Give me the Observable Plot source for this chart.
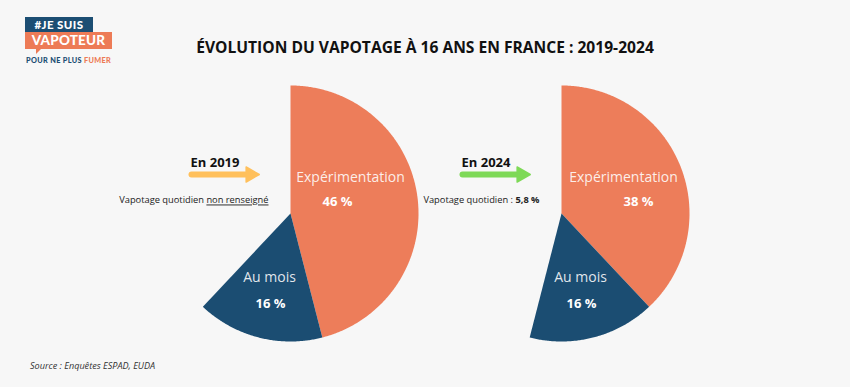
<!DOCTYPE html>
<html lang="fr">
<head>
<meta charset="utf-8">
<script src="https://cdn.jsdelivr.net/npm/d3@7"></script>
<script src="https://cdn.jsdelivr.net/npm/@observablehq/plot@0.6"></script>
<style>
  html, body { margin: 0; padding: 0; background: #f7f7f7; }
  #wrap { position: relative; width: 850px; height: 387px; background: #f7f7f7; overflow: hidden; font-family: "Open Sans", sans-serif; }
  #chart { position: absolute; left: 0; top: 0; }
  .abs { position: absolute; white-space: nowrap; }
  #title { left: 0; width: 850px; top: 37px; text-align: center; font-weight: 700; font-size: 15.6px; color: #111; line-height: 20px; }
  #source { left: 30px; top: 359px; font-size: 9.1px; font-style: italic; color: #333; }
  .logo-box { position: absolute; color: #fff; font-family: Lato, "Open Sans", sans-serif; font-weight: 900; text-align: center; }
  #l1 { left: 25px; top: 17px; width: 68px; height: 16px; background: #1c4e73; font-size: 11.5px; line-height: 16px; letter-spacing: 0.4px; }
  #l2 { left: 25px; top: 32px; width: 87px; height: 17px; background: #ed7b56; font-size: 13.5px; line-height: 17px; letter-spacing: 0.2px; }
  #l2tail { left: 36px; top: 48px; width: 0; height: 0; border-left: 6px solid #ed7b56; border-right: 1px solid transparent; border-bottom: 6px solid transparent; }
  #l3 { left: 26px; top: 56px; font-family: Lato, "Open Sans", sans-serif; font-weight: 900; font-size: 7.3px; color: #1c4e73; letter-spacing: 0.35px; }
  #l3 span { color: #ed7b56; }
</style>
</head>
<body>
<div id="wrap">
  <div class="logo-box" id="l1">#JE SUIS</div>
  <div class="logo-box" id="l2">VAPOTEUR</div>
  <div class="abs" id="l2tail"></div>
  <div class="abs" id="l3">POUR NE PLUS <span>FUMER</span></div>
  <div class="abs" id="title">ÉVOLUTION DU VAPOTAGE À 16 ANS EN FRANCE : 2019-2024</div>
  <div id="chart"></div>
  <div class="abs" id="source">Source : Enquêtes ESPAD, EUDA</div>
</div>
<script>
// ---- data ----
const years = ["2019", "2024"];
const categories = ["Expérimentation", "Au mois"];
const experimentation = [46, 38];   // %
const auMois = [16, 16];            // %
const quotidienText = ["non renseigné", "5,8 %"];
const arrowColors = ["#ffc05c", "#7ed957"];
const sliceColors = {"Expérimentation": "#ed7d5a", "Au mois": "#1b4d72"};

// ---- layout (pixel space) ----
const W = 850, H = 387;
const layout = {
  cx: [290, 561], cy: 213, r: 128,
  labelOffset: {
    "Expérimentation": [[60, 47], [62, 77]],
    "Au mois": [[-21, -20], [19, 20]]
  },
  labelY: {"Expérimentation": [177, 201], "Au mois": [277, 303]}
};

// ---- build slices from values ----
const seriesByCat = {"Expérimentation": experimentation, "Au mois": auMois};
const slicePts = [];
const labels = [];
years.forEach((year, i) => {
  const cx = layout.cx[i], cy = layout.cy, r = layout.r;
  let acc = 0;
  categories.forEach(cat => {
    const v = seriesByCat[cat][i];
    const a0 = acc / 100 * 360, a1 = (acc + v) / 100 * 360;
    acc += v;
    const key = year + "-" + cat;
    const pt = a => ({key, cat, x: cx + r * Math.sin(a * Math.PI / 180), y: cy - r * Math.cos(a * Math.PI / 180)});
    slicePts.push({key, cat, x: cx, y: cy});
    for (let a = a0; a < a1; a += 0.5) slicePts.push(pt(a));
    slicePts.push(pt(a1));
    slicePts.push({key, cat, x: cx, y: cy});
    const off = layout.labelOffset[cat][i];
    labels.push({x: cx + off[0], y: layout.labelY[cat][0], text: cat, kind: "name"});
    labels.push({x: cx + off[1], y: layout.labelY[cat][1], text: v + " %", kind: "value"});
  });
});

const ann = years.map((year, i) => ({
  year, color: arrowColors[i],
  x0: layout.cx[i] - 99, x1: layout.cx[i] - 45, xh: layout.cx[i] - 40,
  tx: layout.cx[i] - 22, q: quotidienText[i]
}));
const arrowPts = ann.flatMap(a => [{year: a.year, color: a.color, x: a.x0, y: 174}, {year: a.year, color: a.color, x: a.x1, y: 174}]);

const plot = Plot.plot({
  width: W, height: H,
  marginTop: 0, marginRight: 0, marginBottom: 0, marginLeft: 0,
  x: {domain: [0, W], range: [0, W], axis: null},
  y: {domain: [0, H], range: [0, H], axis: null},
  style: {background: "transparent", fontFamily: "'Open Sans', sans-serif", overflow: "visible"},
  marks: [
    Plot.line(slicePts, {x: "x", y: "y", z: "key", fill: d => sliceColors[d.cat], stroke: "none"}),
    Plot.text(labels.filter(d => d.kind === "name"), {x: "x", y: "y", text: "text", fill: "#fff", fillOpacity: 0.88, fontSize: 14}),
    Plot.text(labels.filter(d => d.kind === "value"), {x: "x", y: "y", text: "text", fill: "#fff", fontSize: 13, fontWeight: 700}),
    Plot.line(arrowPts, {x: "x", y: "y", z: "year", stroke: "color", strokeWidth: 6, strokeLinecap: "round"}),
    Plot.dot(ann, {x: "xh", y: () => 174, symbol: "triangle", rotate: 90, r: 5.6, fill: "color", stroke: "color", strokeWidth: 1.5, strokeLinejoin: "round"}),
    Plot.text(ann, {x: "x0", y: () => 162, text: d => "En " + d.year, textAnchor: "start", fontWeight: 700, fontSize: 13, fill: "#111", dx: -1}),
    Plot.text(ann, {x: "tx", y: () => 200, text: d => "Vapotage quotidien " + (d.year === "2019" ? "" : ": ") + d.q, textAnchor: "end", fontSize: 9.3, fill: "#222"})
  ]
});
document.getElementById("chart").appendChild(plot);

// rich text for the daily-vaping notes (underline / bold)
d3.select(plot).selectAll("text").each(function() {
  const el = d3.select(this);
  const t = el.text();
  if (!t.startsWith("Vapotage quotidien")) return;
  years.forEach((y, i) => {
    const q = quotidienText[i];
    if (t.endsWith(q)) {
      const head = t.slice(0, t.length - q.length);
      el.text(null);
      el.append("tspan").text(head);
      const s = el.append("tspan").text(q);
      if (y === "2019") s.attr("text-decoration", "underline");
      else s.attr("font-weight", 700);
    }
  });
});
</script>
</body>
</html>
